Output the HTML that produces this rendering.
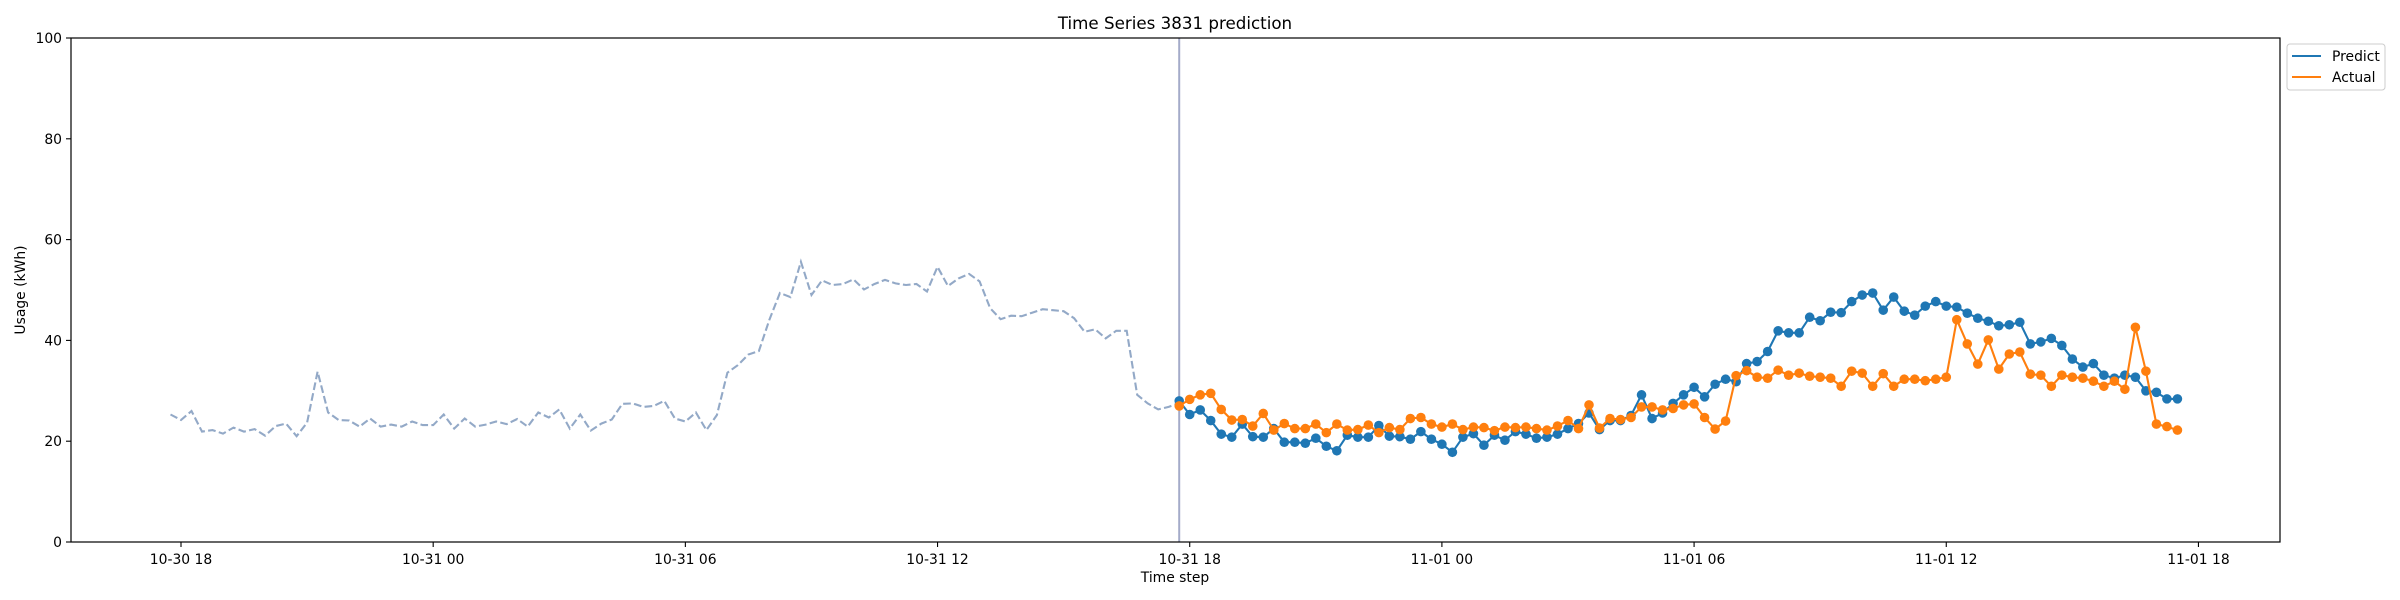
<!DOCTYPE html>
<html>
<head>
<meta charset="utf-8">
<style>
  html,body{margin:0;padding:0;background:#fff;}
  svg{display:block;font-family:"DejaVu Sans","Liberation Sans",sans-serif;}
</style>
</head>
<body>
<svg id="chart" width="2400" height="600" viewBox="0 0 2400 600" xmlns="http://www.w3.org/2000/svg">
  <rect x="0" y="0" width="2400" height="600" fill="#fff"/>
  <text x="1175" y="29" font-size="16.7" text-anchor="middle" fill="#000">Time Series 3831 prediction</text>
  <g id="plot"></g>
  <rect x="71" y="38" width="2209" height="504" fill="none" stroke="#000" stroke-width="1.2"/>
  <g id="yticks"></g>
  <g id="xticks"></g>
  <text x="1175" y="582" font-size="13.9" text-anchor="middle">Time step</text>
  <text x="25" y="290" font-size="13.9" text-anchor="middle" transform="rotate(-90 25 290)">Usage (kWh)</text>
  <g>
    <rect x="2287" y="44" width="98" height="46" rx="3" fill="#fff" stroke="#ccc" stroke-width="1"/>
    <line x1="2292" y1="56" x2="2321" y2="56" stroke="#1f77b4" stroke-width="2.1"/>
    <text x="2332" y="61" font-size="13.9">Predict</text>
    <line x1="2292" y1="77" x2="2321" y2="77" stroke="#ff7f0e" stroke-width="2.1"/>
    <text x="2332" y="82" font-size="13.9">Actual</text>
  </g>
</svg>
<script>
const historyValues = [25.3,24.2,26.0,21.9,22.2,21.5,22.7,21.9,22.4,21.1,23.0,23.5,21.0,23.7,33.8,25.7,24.2,24.1,22.9,24.5,22.9,23.3,22.9,23.9,23.2,23.2,25.3,22.5,24.5,22.9,23.3,23.9,23.4,24.4,22.9,25.7,24.7,26.3,22.5,25.3,22.1,23.5,24.3,27.4,27.5,26.8,27.0,28.0,24.5,23.9,25.7,22.2,25.2,33.6,35.1,37.2,37.9,44.1,49.4,48.6,55.6,49.0,51.9,51.0,51.2,52.1,50.1,51.2,52.0,51.3,51.0,51.2,49.7,54.6,50.8,52.3,53.2,51.7,46.4,44.2,44.9,44.8,45.5,46.2,46.0,45.8,44.4,41.7,42.2,40.4,41.9,41.9,29.2,27.5,26.3,26.8,27.6];
const predictValues = [28.0,25.3,26.2,24.1,21.4,20.8,23.4,20.9,20.8,22.5,19.8,19.8,19.6,20.6,19.0,18.1,21.2,20.8,20.8,23.1,21.0,20.9,20.4,21.9,20.4,19.4,17.8,20.8,21.5,19.2,21.2,20.2,21.9,21.4,20.6,20.8,21.4,22.5,23.5,25.6,22.3,24.1,24.1,25.1,29.2,24.5,25.6,27.5,29.2,30.7,28.8,31.3,32.3,31.8,35.4,35.8,37.8,41.9,41.5,41.5,44.6,43.9,45.6,45.5,47.7,49.0,49.4,46.0,48.6,45.8,45.0,46.8,47.7,46.8,46.6,45.4,44.4,43.8,42.9,43.1,43.6,39.3,39.7,40.4,39.0,36.3,34.7,35.4,33.1,32.5,33.1,32.7,30.0,29.7,28.4,28.4];
const actualValues = [27.0,28.3,29.2,29.5,26.3,24.2,24.3,23.0,25.5,22.2,23.5,22.5,22.5,23.4,21.7,23.4,22.2,22.3,23.2,21.7,22.7,22.3,24.5,24.7,23.4,22.8,23.4,22.3,22.8,22.7,22.1,22.8,22.7,22.8,22.5,22.2,23.0,24.1,22.5,27.2,22.6,24.5,24.3,24.7,26.8,26.8,26.2,26.5,27.2,27.4,24.7,22.4,24.0,33.0,34.0,32.7,32.5,34.1,33.1,33.5,32.9,32.7,32.5,30.9,33.9,33.5,30.9,33.4,30.9,32.3,32.3,32.0,32.3,32.7,44.1,39.3,35.3,40.1,34.3,37.3,37.7,33.3,33.1,30.9,33.1,32.7,32.5,31.9,30.9,31.9,30.3,42.6,33.9,23.4,22.9,22.2];
const yTickValues = [0,20,40,60,80,100];
const xTickHours = [0,6,12,18,24,30,36,42,48];
const xTickLabels = ["10-30 18","10-31 00","10-31 06","10-31 12","10-31 18","11-01 00","11-01 06","11-01 12","11-01 18"];
const historyStartHour = -0.25;
const forecastStartHour = 23.75;
const stepHours = 0.25;

const NS = "http://www.w3.org/2000/svg";
function xScale(h){ return 181 + h * 42.03; }
function yScale(v){ return 542 - v * 5.04; }
function mk(tag, attrs, parent){
  const e = document.createElementNS(NS, tag);
  for (const k in attrs) e.setAttribute(k, attrs[k]);
  parent.appendChild(e);
  return e;
}
const plot = document.getElementById('plot');
const yt = document.getElementById('yticks');
const xt = document.getElementById('xticks');

yTickValues.forEach(v => {
  const y = yScale(v);
  const l = mk('line', {x1:66, x2:71, y1:y, y2:y, stroke:'#000', 'stroke-width':1.1}, yt);
  
  
  const t = mk('text', {x:62, y:y+5, 'font-size':13.9, 'text-anchor':'end'}, yt);
  t.textContent = v;
  
  
});
xTickHours.forEach((h, i) => {
  const x = xScale(h);
  const l = mk('line', {x1:x, x2:x, y1:542, y2:547, stroke:'#000', 'stroke-width':1.1}, xt);
  
  
  const t = mk('text', {x:x, y:564, 'font-size':13.9, 'text-anchor':'middle'}, xt);
  t.textContent = xTickLabels[i];
  
  
});

const vx = xScale(forecastStartHour);
const vl = mk('line', {x1:vx, x2:vx, y1:38, y2:542, stroke:'#a4abc9', 'stroke-width':2}, plot);



function pts(vals, start){
  return vals.map((v,i) => xScale(start + i*stepHours).toFixed(1) + ',' + yScale(v).toFixed(1)).join(' ');
}
const hist = mk('polyline', {points: pts(historyValues, historyStartHour), fill:'none', stroke:'#93a9c7', 'stroke-width':2.1, 'stroke-dasharray':'7.7,3.3'}, plot);



function series(vals, color, name){
  const g = mk('g', {}, plot);
  
  
  const pl = mk('polyline', {points: pts(vals, forecastStartHour), fill:'none', stroke:color, 'stroke-width':2.1}, g);
  
  
  vals.forEach((v,i) => {
    const c = mk('circle', {cx:xScale(forecastStartHour + i*stepHours), cy:yScale(v), r:4.8, fill:color}, g);
    
    
  });
}
series(predictValues, '#1f77b4', 'predict');
series(actualValues, '#ff7f0e', 'actual');
</script>
</body>
</html>
